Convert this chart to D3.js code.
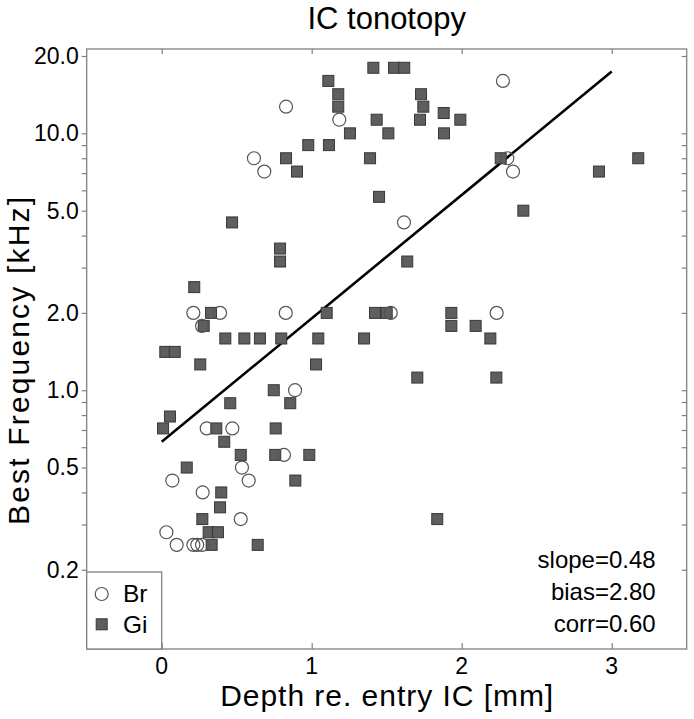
<!DOCTYPE html>
<html>
<head>
<meta charset="utf-8">
<script src="https://cdn.jsdelivr.net/npm/d3@7"></script>
<style>
  html, body { margin: 0; padding: 0; background: #fff; }
  svg { display: block; font-family: "Liberation Sans", Arial, Helvetica, sans-serif; }
</style>
</head>
<body>
<svg id="chart" width="694" height="719"></svg>
<script>
// ---- data ----
const title = "IC tonotopy";
const xLabel = "Depth re. entry IC [mm]";
const yLabel = "Best Frequency [kHz]";

const brDepth = [0.829, 1.184, 0.615, 0.684, 2.275, 2.304, 2.342, 1.615, 0.211, 0.389, 0.827, 0.269, 1.527, 2.233,
                 0.889, 0.300, 0.471, 0.815, 0.535, 0.071, 0.580, 0.273, 0.527, 0.031, 0.100, 0.211, 0.237, 0.269];
const brFreq  = [12.7, 11.3, 8.0, 7.1, 16.0, 8.0, 7.1, 4.5, 2.0, 2.0, 2.0, 1.78, 2.0, 2.0,
                 1.0, 0.71, 0.71, 0.56, 0.5, 0.445, 0.445, 0.4, 0.315, 0.28, 0.25, 0.25, 0.25, 0.25];

const giDepth = [1.111, 1.177, 1.177, 1.255, 0.977, 1.115, 0.829, 0.902, 0.469, 1.411, 1.549, 1.617, 1.729, 1.744,
                 1.433, 1.722, 1.880, 1.991, 1.511, 1.882, 1.389, 2.260, 2.915, 3.177, 1.449, 2.411, 0.789, 0.789,
                 1.637, 0.217, 0.329, 1.100, 1.422, 1.500, 1.931, 0.280, 1.931, 2.093, 0.424, 0.551, 0.655, 0.797,
                 1.044, 1.349, 2.191, 0.024, 0.087, 0.257, 1.029, 1.704, 2.231, 0.747, 0.457, 0.857, 0.055, 0.009,
                 0.364, 0.760, 0.417, 0.527, 0.757, 0.984, 0.167, 0.891, 0.397, 0.389, 0.271, 0.313, 0.375, 0.333,
                 0.640, 1.837];
const giFreq  = [16.0, 14.2, 12.7, 10.0, 9.0, 9.0, 8.0, 7.1, 4.5, 18.0, 18.0, 18.0, 14.2, 12.7,
                 11.3, 11.3, 12.0, 11.3, 10.0, 10.0, 8.0, 8.0, 7.1, 8.0, 5.66, 5.0, 3.56, 3.17,
                 3.17, 2.52, 2.0, 2.0, 2.0, 2.0, 2.0, 1.78, 1.78, 1.78, 1.59, 1.59, 1.59, 1.59,
                 1.59, 1.59, 1.59, 1.41, 1.41, 1.26, 1.26, 1.12, 1.12, 1.0, 0.89, 0.89, 0.79, 0.71,
                 0.71, 0.71, 0.63, 0.56, 0.56, 0.56, 0.5, 0.445, 0.4, 0.35, 0.315, 0.28, 0.28, 0.25,
                 0.25, 0.315];

const fitDepth = [0, 3];
const fitFreq  = [0.63, 17.4];

const statsLines = ["slope=0.48", "bias=2.80", "corr=0.60"];
const legendNames = ["Br", "Gi"];

const xTickValues = [0, 1, 2, 3];
const xTickLabels = ["0", "1", "2", "3"];
const yTickValues = [0.2, 0.5, 1, 2, 5, 10, 20];
const yTickLabels = ["0.2", "0.5", "1.0", "2.0", "5.0", "10.0", "20.0"];
const yMinorTicks = [0.3, 0.4, 0.6, 0.7, 0.8, 0.9, 3, 4, 6, 7, 8, 9];

// ---- layout ----
const L = 86.7, R = 686.7, T = 49, B = 649;
const frameColor = "#808080";

const svg = d3.select("#chart");
const x = d3.scaleLinear().domain([-0.5, 3.5]).range([L, R]);
const y = d3.scaleLog().domain([0.0983, 21.3]).range([B, T]);

function styleAxis(g) {
  g.select(".domain").remove();
  g.selectAll(".tick line").attr("stroke", frameColor).attr("stroke-width", 1.2);
  g.selectAll(".tick text").attr("fill", "#000").attr("font-family", "Liberation Sans, Arial, sans-serif");
}

// left: outward ticks, labelled
svg.append("g").attr("transform", `translate(${L},0)`)
  .call(d3.axisLeft(y).tickValues(yTickValues).tickFormat((d, i) => yTickLabels[i]).tickSize(5).tickPadding(3))
  .call(styleAxis)
  .call(g => g.selectAll(".tick text").attr("font-size", 23));
svg.append("g").attr("transform", `translate(${L},0)`)
  .call(d3.axisLeft(y).tickValues(yMinorTicks).tickFormat("").tickSize(5))
  .call(styleAxis);

// right: inward ticks
svg.append("g").attr("transform", `translate(${R},0)`)
  .call(d3.axisLeft(y).tickValues(yTickValues.concat(yMinorTicks)).tickFormat("").tickSize(5))
  .call(styleAxis);

// bottom: inward ticks, labels below
svg.append("g").attr("transform", `translate(0,${B})`)
  .call(d3.axisTop(x).tickValues(xTickValues).tickFormat("").tickSize(6))
  .call(styleAxis);
svg.append("g").selectAll("text").data(xTickValues).join("text")
  .attr("x", d => x(d)).attr("y", B + 25)
  .attr("text-anchor", "middle").attr("font-size", 23).attr("fill", "#000")
  .text((d, i) => xTickLabels[i]);

// top: inward ticks
svg.append("g").attr("transform", `translate(0,${T})`)
  .call(d3.axisBottom(x).tickValues(xTickValues).tickFormat("").tickSize(5))
  .call(styleAxis);

// frame
svg.append("rect").attr("x", L).attr("y", T).attr("width", R - L).attr("height", B - T)
  .attr("fill", "none").attr("stroke", frameColor).attr("stroke-width", 1.3);

// fit line
svg.append("path")
  .datum(fitDepth.map((d, i) => [d, fitFreq[i]]))
  .attr("d", d3.line().x(d => x(d[0])).y(d => y(d[1])))
  .attr("fill", "none").attr("stroke", "#000").attr("stroke-width", 2.6);

// Gi squares
const sq = 11;
svg.append("g").selectAll("rect").data(giDepth.map((d, i) => [d, giFreq[i]])).join("rect")
  .attr("x", d => x(d[0]) - sq / 2).attr("y", d => y(d[1]) - sq / 2)
  .attr("width", sq).attr("height", sq)
  .attr("fill", "#5e5e5e").attr("stroke", "#383838").attr("stroke-width", 1);

// Br circles
svg.append("g").selectAll("circle").data(brDepth.map((d, i) => [d, brFreq[i]])).join("circle")
  .attr("cx", d => x(d[0])).attr("cy", d => y(d[1])).attr("r", 6.5)
  .attr("fill", "none").attr("stroke", "#555").attr("stroke-width", 1.2);

// legend
const lg = svg.append("g");
lg.append("rect").attr("x", L).attr("y", 572).attr("width", x(0) - L).attr("height", B - 572)
  .attr("fill", "#fff").attr("stroke", frameColor).attr("stroke-width", 1.3);
lg.append("circle").attr("cx", 101.7).attr("cy", 594).attr("r", 6.5)
  .attr("fill", "none").attr("stroke", "#555").attr("stroke-width", 1.2);
lg.append("rect").attr("x", 101.7 - sq / 2).attr("y", 624.3 - sq / 2).attr("width", sq).attr("height", sq)
  .attr("fill", "#5e5e5e").attr("stroke", "#383838").attr("stroke-width", 1);
lg.selectAll("text").data(legendNames).join("text")
  .attr("x", 123).attr("y", (d, i) => [601.7, 632.7][i])
  .attr("font-size", 24.5).attr("fill", "#000").text(d => d);

// stats text
svg.append("g").selectAll("text").data(statsLines).join("text")
  .attr("x", 655.7).attr("y", (d, i) => 568.3 + i * 31.7)
  .attr("text-anchor", "end").attr("font-size", 24).attr("fill", "#000").text(d => d);

// titles
svg.append("text").attr("x", (L + R) / 2).attr("y", 28.5).attr("text-anchor", "middle")
  .attr("font-size", 31).attr("fill", "#000").text(title);
svg.append("text").attr("x", (L + R) / 2).attr("y", 706).attr("text-anchor", "middle")
  .attr("font-size", 30).attr("textLength", 333).attr("lengthAdjust", "spacing")
  .attr("fill", "#000").text(xLabel);
svg.append("text").attr("transform", "translate(29,361) rotate(-90)").attr("text-anchor", "middle")
  .attr("font-size", 30).attr("textLength", 328).attr("lengthAdjust", "spacing")
  .attr("fill", "#000").text(yLabel);
</script>
</body>
</html>
